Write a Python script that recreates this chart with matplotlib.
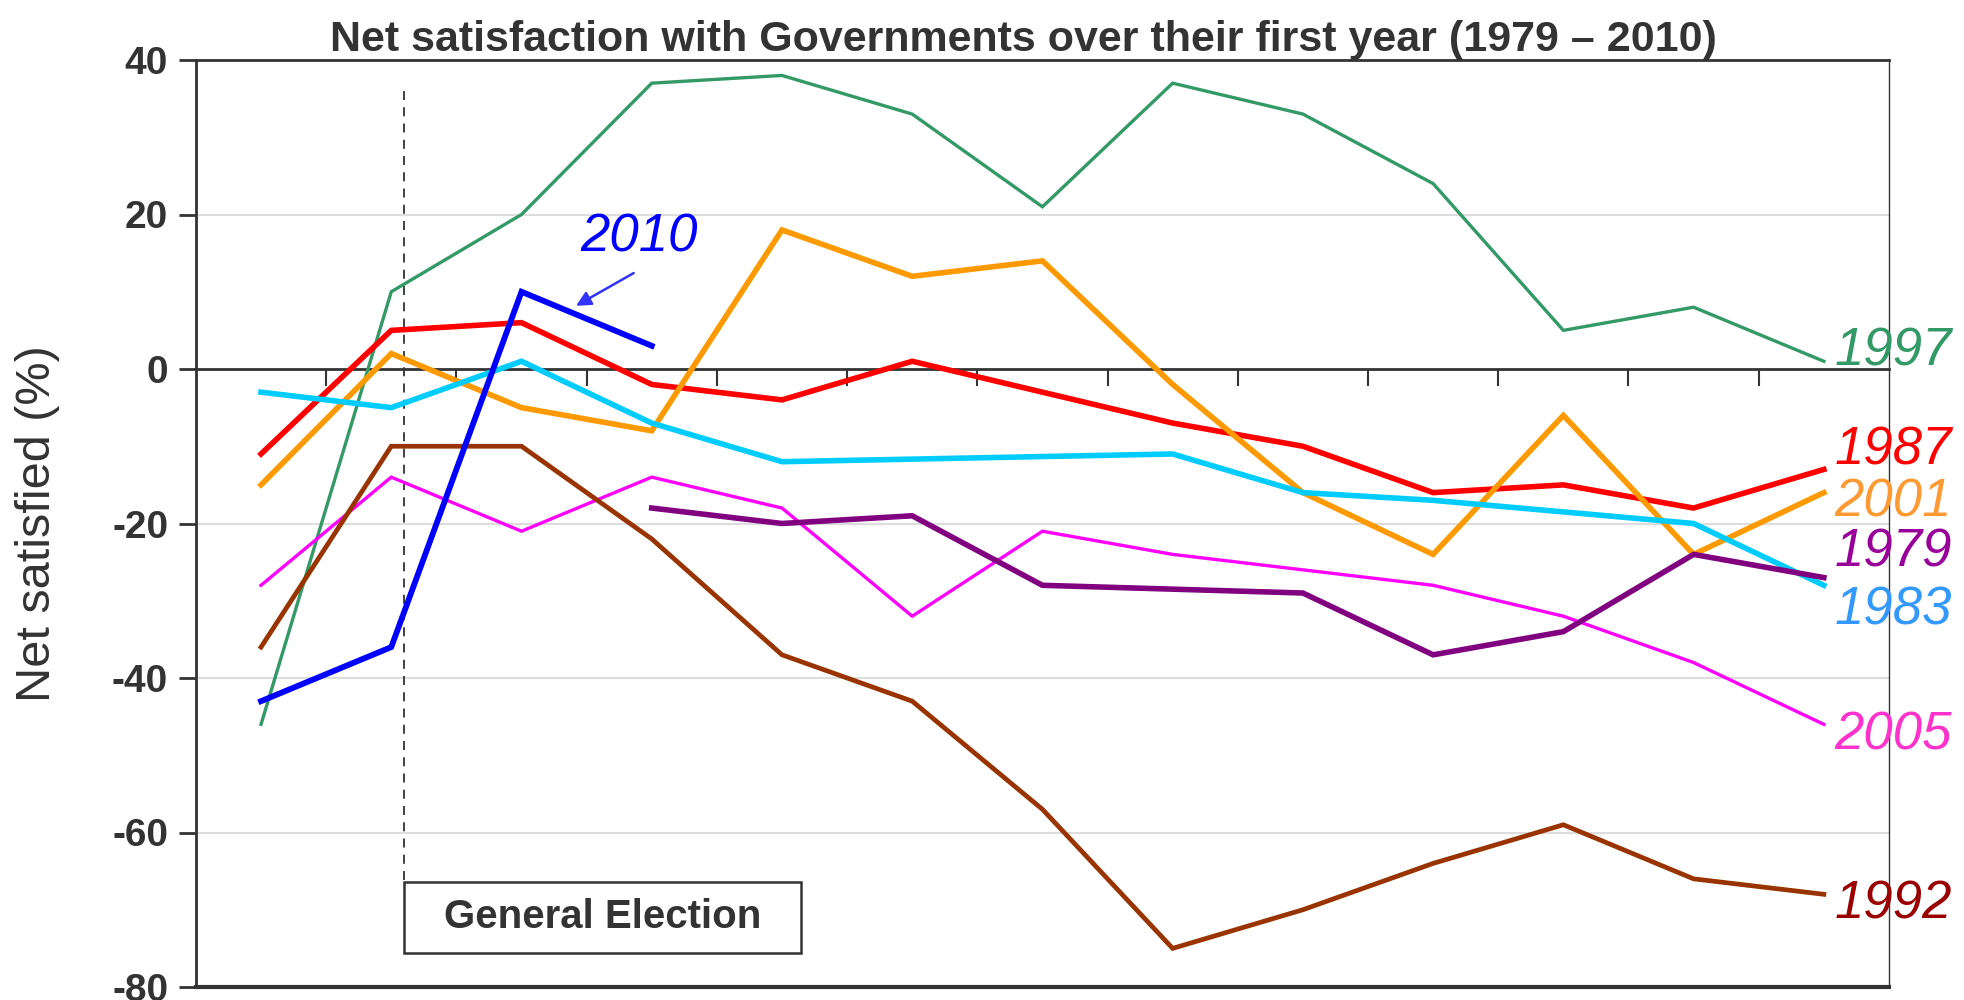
import numpy as np
import matplotlib.pyplot as plt
from matplotlib.patches import Rectangle

plt.rcParams['font.family'] = ['Liberation Sans', 'DejaVu Sans']

# 13 polls over the first year, None = no point plotted
months = list(range(13))
y1979 = [None, None, None, -18, -20, -19, -28, None, -29, -37, -34, -24, -27]
y1983 = [-3, -5, 1, -7, -12, None, None, -11, -16, -17, -18.5, -20, -28]
y1987 = [-11, 5, 6, -2, -4, 1, -3, -7, -10, -16, -15, -18, -13]
y1992 = [-36, -10, -10, -22, -37, -43, -57, -75, -70, -64, -59, -66, -68]
y1997 = [-46, 10, 20, 37, 38, 33, 21, 37, 33, 24, 5, 8, 1]
y2001 = [-15, 2, -5, -8, 18, 12, 14, -2, -16, -24, -6, -24, -16]
y2005 = [-28, -14, -21, -14, -18, -32, -21, -24, -26, -28, -32, -38, -46]
y2010 = [-43, -36, 10, 3]

series = [
    # name, values, line colour, width, label colour, label y
    ('1997', y1997, '#339966', 2.4, '#339966', 2.3),
    ('1987', y1987, '#ff0000', 4.0, '#ff0000', -10.5),
    ('2001', y2001, '#ff9900', 4.0, '#ff9933', -17.3),
    ('1983', y1983, '#00ccff', 4.0, '#3399ff', -31.3),
    ('2005', y2005, '#ff00ff', 2.4, '#ff33cc', -47.5),
    ('1979', y1979, '#800080', 4.0, '#990099', -23.8),
    ('1992', y1992, '#993300', 3.4, '#990000', -69.3),
    ('2010', y2010, '#0000ff', 4.2, None, None),
]

fig = plt.figure(figsize=(19.65, 10), dpi=100)
ax = fig.add_axes([0.0997, 0.013, 0.8616, 0.927])
dark = '#333333'

for name, vals, col, lw, lcol, ly in series:
    xs = [m for m, v in zip(months, vals) if v is not None]
    vs = [v for v in vals if v is not None]
    ax.plot(xs, vs, color=col, lw=lw, solid_joinstyle='miter', zorder=3)
    if lcol:
        ax.text(12.08, ly, name, color=lcol, fontsize=38, style='italic',
                ha='left', va='center', clip_on=False, zorder=4)

ax.text(2.9, 17, '2010', color='#0000ff', fontsize=38, style='italic',
        ha='center', va='center')
ax.annotate('', xy=(2.4, 8), xytext=(2.88, 12.6),
            arrowprops=dict(arrowstyle='-|>', color='#3333ff', lw=1.8,
                            mutation_scale=22))

# general election marker
ax.plot([1.1, 1.1], [36, -66.4], color=dark, lw=1.3, ls=(0, (5, 4)), zorder=2)
ax.add_patch(Rectangle((1.1, -75.6), 3.05, 9.2, facecolor='white',
                       edgecolor=dark, lw=1.8, zorder=2))
ax.text(2.62, -71.0, 'General Election', fontsize=29, fontweight='bold',
        color=dark, ha='center', va='center', zorder=3)

ax.set_xlim(-0.5, 12.5)
ax.set_ylim(-80, 40)
ax.set_yticks([40, 20, 0, -20, -40, -60, -80])
ax.set_yticklabels(['40', '20', '0', '-20', '-40', '-60', '-80'])
ax.tick_params(axis='y', labelsize=28, labelcolor=dark, color=dark,
               length=12, width=2, direction='out', pad=8)
for lab in ax.get_yticklabels():
    lab.set_fontweight('bold')

ax.set_xticks(np.arange(0.5, 12, 1))
ax.set_xticklabels([])
ax.tick_params(axis='x', color=dark, length=12, width=1.5, direction='out')
ax.spines['bottom'].set_position(('data', 0))
ax.spines['bottom'].set_color(dark)
ax.spines['bottom'].set_linewidth(2)
ax.spines['left'].set_color(dark)
ax.spines['left'].set_linewidth(2)
ax.spines['right'].set_color(dark)
ax.spines['right'].set_linewidth(1)
ax.spines['top'].set_color(dark)
ax.spines['top'].set_linewidth(2)
ax.axhline(-80, color=dark, lw=3, clip_on=False, zorder=1)
for g in [20, -20, -40, -60]:
    ax.axhline(g, color='#dddddd', lw=1.5, zorder=0)

ax.set_ylabel('Net satisfied (%)', fontsize=35, color=dark)
ax.yaxis.set_label_coords(-0.080, 0.5)
ax.set_title('Net satisfaction with Governments over their first year (1979 \u2013 2010)',
             fontsize=31, fontweight='bold', color=dark, x=0.489, pad=6)

fig.savefig('out.png', dpi=100)
